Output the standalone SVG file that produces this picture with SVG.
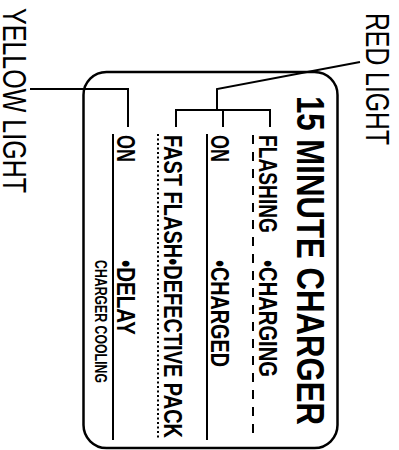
<svg xmlns="http://www.w3.org/2000/svg" width="399" height="450" viewBox="0 0 399 450">
<style>
.b{font-family:"Liberation Sans",Arial,sans-serif;font-weight:bold;fill:#000}
.r{font-family:"Liberation Sans",Arial,sans-serif;font-weight:normal;fill:#000}
.ln{stroke:#000;stroke-width:2;fill:none}
</style>
<rect width="399" height="450" fill="#fff"/>
<g id="panel">
<rect x="83.5" y="72" width="254" height="376" rx="23" ry="23" fill="none" stroke="#000" stroke-width="2.5"/>
<text class="b" font-size="39" transform="translate(297,96) rotate(90)" textLength="329" lengthAdjust="spacingAndGlyphs">15 MINUTE CHARGER</text>
</g>
<g id="flashing">
<text class="b" font-size="25" transform="translate(259,135) rotate(90)" textLength="98" lengthAdjust="spacingAndGlyphs">FLASHING</text>
<text class="b" font-size="25" transform="translate(259,260) rotate(90)" textLength="117" lengthAdjust="spacingAndGlyphs">•CHARGING</text>
<line x1="253" y1="135" x2="253" y2="439" stroke="#000" stroke-width="2" stroke-dasharray="9,8"/>
</g>
<g id="red-on">
<text class="b" font-size="25" transform="translate(211,135) rotate(90)" textLength="27" lengthAdjust="spacingAndGlyphs">ON</text>
<text class="b" font-size="25" transform="translate(211,260) rotate(90)" textLength="107" lengthAdjust="spacingAndGlyphs">•CHARGED</text>
<line class="ln" x1="207" y1="134" x2="207" y2="440"/>
</g>
<g id="fast-flash">
<text class="b" font-size="25" transform="translate(164,135) rotate(90)" textLength="303" lengthAdjust="spacingAndGlyphs">FAST FLASH•DEFECTIVE PACK</text>
<line x1="158" y1="134" x2="158" y2="439" stroke="#000" stroke-width="2" stroke-dasharray="2,2.5"/>
</g>
<g id="yellow-on">
<text class="b" font-size="25" transform="translate(117,135) rotate(90)" textLength="27" lengthAdjust="spacingAndGlyphs">ON</text>
<text class="b" font-size="25" transform="translate(117,260) rotate(90)" textLength="75" lengthAdjust="spacingAndGlyphs">•DELAY</text>
<text class="b" font-size="16" transform="translate(95,260) rotate(90)" textLength="123" lengthAdjust="spacingAndGlyphs">CHARGER COOLING</text>
<line class="ln" x1="113" y1="134" x2="113" y2="440"/>
</g>
<g id="red-light">
<text class="r" font-size="33" transform="translate(366,13) rotate(90)" textLength="132" lengthAdjust="spacingAndGlyphs">RED LIGHT</text>
</g>
<g id="yellow-light">
<text class="r" font-size="33" transform="translate(3,8) rotate(90)" textLength="185" lengthAdjust="spacingAndGlyphs">YELLOW LIGHT</text>
</g>
<g id="connectors">
<polyline class="ln" points="360,62 217,89 217,110"/>
<polyline class="ln" points="176,127 176,110 270,110 270,127"/>
<line class="ln" x1="223" y1="110" x2="223" y2="127"/>
<polyline class="ln" points="30,89 128,89 128,127"/>
</g>
</svg>
